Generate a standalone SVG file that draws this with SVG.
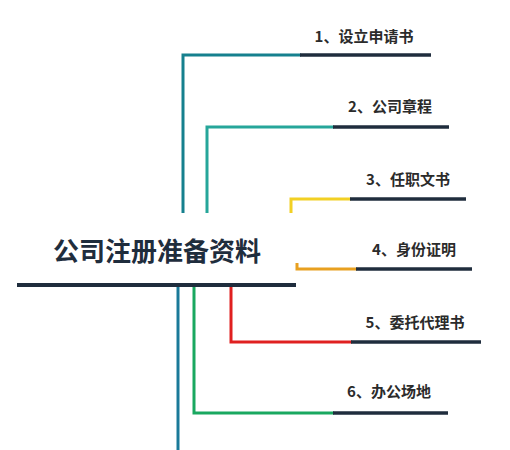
<svg xmlns="http://www.w3.org/2000/svg" width="510" height="450" viewBox="0 0 510 450">
<style>
.lbl{font-family:"Noto Sans CJK SC","Noto Sans",sans-serif;font-weight:bold;font-size:15px;fill:#2b2b2b;text-anchor:middle}
.ttl{font-family:"Noto Sans CJK SC","Noto Sans",sans-serif;font-weight:bold;font-size:26px;fill:#1f2d3d;text-anchor:middle}
.c{fill:none;stroke-width:3;stroke-linecap:butt;stroke-linejoin:miter}
.d{stroke:#1f2d3d;stroke-width:3.5;fill:none}
</style>
<rect width="510" height="450" fill="#ffffff"/>
<g id="connectors">
<polyline class="c" stroke="#16808e" points="183,213 183,55 301,55"/>
<line class="d" x1="300" y1="55" x2="431" y2="55"/>
<polyline class="c" stroke="#26a69a" points="207,213 207,127 334,127"/>
<line class="d" x1="333" y1="127" x2="449" y2="127"/>
<polyline class="c" stroke="#f2d024" points="291,213 291,199 351,199"/>
<line class="d" x1="350" y1="199" x2="466" y2="199"/>
<polyline class="c" stroke="#e8a020" points="297,263 297,269 357,269"/>
<line class="d" x1="356" y1="269" x2="472" y2="269"/>
<polyline class="c" stroke="#e02020" points="231,287 231,342 352,342"/>
<line class="d" x1="351" y1="342" x2="481" y2="342"/>
<polyline class="c" stroke="#1aa860" points="194,287 194,413 334,413"/>
<line class="d" x1="333" y1="413" x2="448" y2="413"/>
<line class="c" stroke="#1a7a99" x1="178" y1="287" x2="178" y2="450"/>
</g>
<g id="root">
<text class="ttl" x="157" y="261">公司注册准备资料</text>
<line x1="17" y1="285" x2="296" y2="285" stroke="#1f2d3d" stroke-width="4"/>
</g>
<g id="n1"><text class="lbl" x="364" y="42">1、设立申请书</text></g>
<g id="n2"><text class="lbl" x="390" y="112">2、公司章程</text></g>
<g id="n3"><text class="lbl" x="408" y="185">3、任职文书</text></g>
<g id="n4"><text class="lbl" x="414" y="255">4、身份证明</text></g>
<g id="n5"><text class="lbl" x="415" y="328">5、委托代理书</text></g>
<g id="n6"><text class="lbl" x="389" y="397">6、办公场地</text></g>
</svg>
